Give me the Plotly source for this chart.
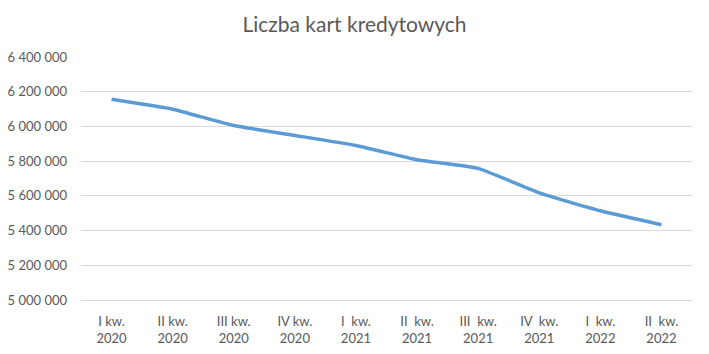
import plotly.graph_objects as go

NB = "\u00a0"
quarters = ["I kw.<br>2020", "II kw.<br>2020", "III kw.<br>2020", "IV kw.<br>2020",
            f"I{NB}{NB}kw.<br>2021", f"II{NB}{NB}kw.<br>2021", f"III{NB}{NB}kw.<br>2021",
            f"IV{NB}{NB}kw.<br>2021", f"I{NB}{NB}kw.<br>2022", f"II{NB}{NB}kw.<br>2022"]
cards = [6156000, 6099000, 6005000, 5948000, 5890000, 5808000, 5758000, 5617000, 5514000, 5434000]

fig = go.Figure()
fig.add_trace(go.Scatter(
    x=quarters, y=cards, mode="lines",
    line=dict(color="#5B9BD5", width=3.5, shape="spline", smoothing=0.4),
    hoverinfo="skip", showlegend=False,
))

font_family = "Lato, 'Open Sans', sans-serif"
fig.update_layout(
    width=709, height=354,
    margin=dict(l=81, r=17, t=57, b=54),
    paper_bgcolor="white", plot_bgcolor="white",
    separators=", ",
    title=dict(text="Liczba kart kredytowych", x=0.5, xanchor="center",
               y=1 - 25 / 354, yanchor="middle",
               font=dict(family=font_family, size=21, color="#595959")),
    font=dict(family=font_family, size=13, color="#595959"),
    xaxis=dict(type="category", range=[-0.5, len(quarters) - 0.5], automargin=False,
               showgrid=False, showline=True, linecolor="#D9D9D9", linewidth=1,
               ticks="", tickfont=dict(size=13, color="#595959"), ticklabelstandoff=9,
               zeroline=False, fixedrange=True),
    yaxis=dict(range=[5000000, 6400000], dtick=200000, tickformat=",d", automargin=False,
               showgrid=True, gridcolor="#D9D9D9", gridwidth=1, showline=False,
               ticks="", tickfont=dict(size=13, color="#595959"), ticklabelstandoff=13,
               zeroline=False, fixedrange=True),
)

fig.write_html("out.html")
